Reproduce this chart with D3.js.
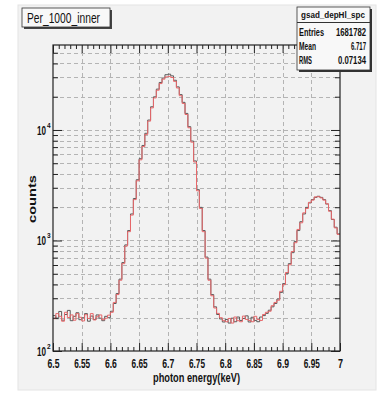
<!DOCTYPE html>
<html>
<head>
<meta charset="utf-8">
<script src="https://cdn.jsdelivr.net/npm/d3@7"></script>
<style>
body{margin:0;background:#fff;}
svg{display:block;}
text{font-family:"Liberation Sans",Arial,sans-serif;}
</style>
</head>
<body>
<div id="chart"></div>
<script>
const w = 383;
const h = 393;

// plot frame
const frameL = 53, frameR = 340, frameT = 45, frameB = 351;

// histogram binning (keV)
const binStart = 6.5;
const binWidth = 0.005;

// data histogram (black)
const dataCounts = [
  209,196,228,190,214,233,188,206,222,192,
  200,218,186,207,193,212,198,188,206,200,
  229,269,331,447,631,912,1230,1738,2399,3548,
  5495,7244,9333,12303,16218,19953,23442,26915,29512,31623,
  31989,30903,28184,24547,20893,17783,14125,10715,7943,5248,
  2884,1995,1230,708,447,324,251,214,195,183,
  193,179,198,184,203,189,197,208,183,202,
  189,184,203,209,219,234,251,269,295,339,
  407,501,617,776,977,1230,1479,1738,1995,2188,
  2344,2455,2512,2455,2344,2138,1862,1549,1318,1148
];

// second histogram (red)
const redCounts = [
  196,218,206,186,224,201,212,190,218,202,
  187,213,197,218,191,204,212,192,198,211,
  224,275,324,437,617,891,1202,1698,2344,3467,
  5370,7079,9120,12023,15849,19498,22909,26303,28840,30200,
  30550,29854,27542,23988,20417,17378,13804,10471,7762,5129,
  2818,1950,1202,692,437,316,245,219,200,188,
  184,197,179,203,188,184,207,193,189,184,
  206,193,189,214,224,229,257,275,288,347,
  398,513,603,794,955,1259,1445,1778,1950,2213,
  2320,2480,2490,2430,2320,2150,1840,1560,1300,1135
];

// axis ticks
const xTicks = [6.5,6.55,6.6,6.65,6.7,6.75,6.8,6.85,6.9,6.95,7];
const xTickLabels = ["6.5","6.55","6.6","6.65","6.7","6.75","6.8","6.85","6.9","6.95","7"];
const xMinor = [6.51,6.52,6.53,6.54,6.56,6.57,6.58,6.59,6.61,6.62,6.63,6.64,6.66,6.67,6.68,6.69,
  6.71,6.72,6.73,6.74,6.76,6.77,6.78,6.79,6.81,6.82,6.83,6.84,6.86,6.87,6.88,6.89,
  6.91,6.92,6.93,6.94,6.96,6.97,6.98,6.99];
const yDecades = [100,1000,10000];
const yExponents = ["2","3","4"];
const yMinor = [200,300,400,500,600,700,800,900,2000,3000,4000,5000,6000,7000,8000,9000,20000,30000,40000,50000];

// stats box
const statsName = "gsad_depHl_spc";
const statsRows = [["Entries","1681782"],["Mean","6.717"],["RMS","0.07134"]];
const histTitle = "Per_1000_inner";

const svg = d3.select("#chart").append("svg").attr("width",w).attr("height",h);

// squeeze text to the narrow ROOT look
function narrow(sel, len){
  sel.attr("textLength",len).attr("lengthAdjust","spacingAndGlyphs");
  return sel;
}

// pad
svg.append("rect").attr("x",18).attr("y",5).attr("width",358).attr("height",385)
  .attr("fill","#f2f2f2").attr("stroke","#e4e4e4");

const xScale = d3.scaleLinear().domain([6.5,7]).range([frameL,frameR]);
const yScale = d3.scaleLog().domain([100,58750]).range([frameB,frameT]);

// grid
const grid = svg.append("g").attr("stroke","#b4b4b4").attr("stroke-dasharray","4,3").attr("stroke-width",1);
grid.selectAll("line.v").data(xTicks.slice(1,-1)).enter().append("line")
  .attr("x1",d=>Math.round(xScale(d))+0.5).attr("x2",d=>Math.round(xScale(d))+0.5)
  .attr("y1",frameT).attr("y2",frameB);
grid.selectAll("line.h").data(yMinor.concat([1000,10000])).enter().append("line")
  .attr("y1",d=>Math.round(yScale(d))+0.5).attr("y2",d=>Math.round(yScale(d))+0.5)
  .attr("x1",frameL).attr("x2",frameR);

// histograms as steps
const edges = dataCounts.map((d,i)=>binStart+i*binWidth);
const stepLine = d3.line().curve(d3.curveStepAfter)
  .x(d=>xScale(d[0])).y(d=>yScale(d[1]));
function steps(counts){
  const pts = counts.map((c,i)=>[edges[i],c]);
  pts.push([7,counts[counts.length-1]]);
  return pts;
}
svg.append("defs").append("clipPath").attr("id","clip")
  .append("rect").attr("x",frameL).attr("y",frameT).attr("width",frameR-frameL).attr("height",frameB-frameT);
const plot = svg.append("g").attr("clip-path","url(#clip)");
plot.append("path").attr("d",stepLine(steps(dataCounts)))
  .attr("fill","none").attr("stroke","#5a5a5a").attr("stroke-width",1);
plot.append("path").attr("d",stepLine(steps(redCounts)))
  .attr("fill","none").attr("stroke","#e8676a").attr("stroke-width",1);

// axes (tick-only axes drop their empty labels)
const axStyle = g => {
  g.select(".domain").remove();
  g.selectAll("line").attr("stroke","#222");
  g.selectAll("text").filter(function(){ return this.textContent === ""; }).remove();
};
svg.append("g").attr("transform",`translate(0,${frameB})`)
  .call(d3.axisBottom(xScale).tickValues(xTicks).tickSizeInner(-8).tickSizeOuter(0).tickPadding(8)
    .tickFormat((d,i)=>xTickLabels[i]))
  .call(axStyle)
  .call(g=>g.selectAll("text").attr("font-size",12.5).attr("font-weight","bold")
    .attr("fill","#111").attr("font-family",null)
    .each(function(d,i){
      const n = xTickLabels[i].length;
      narrow(d3.select(this), n===1 ? 5 : n*4);
    }));
svg.append("g").attr("transform",`translate(0,${frameB})`)
  .call(d3.axisBottom(xScale).tickValues(xMinor).tickSizeInner(-4).tickSizeOuter(0).tickFormat(""))
  .call(axStyle);
svg.append("g").attr("transform",`translate(0,${frameT})`)
  .call(d3.axisTop(xScale).tickValues(xTicks).tickSizeInner(-8).tickSizeOuter(0).tickFormat(""))
  .call(axStyle);
svg.append("g").attr("transform",`translate(0,${frameT})`)
  .call(d3.axisTop(xScale).tickValues(xMinor).tickSizeInner(-4).tickSizeOuter(0).tickFormat(""))
  .call(axStyle);

svg.append("g").attr("transform",`translate(${frameL},0)`)
  .call(d3.axisLeft(yScale).tickValues(yDecades).tickSizeInner(-9).tickSizeOuter(0).tickFormat(""))
  .call(axStyle);
svg.append("g").attr("transform",`translate(${frameL},0)`)
  .call(d3.axisLeft(yScale).tickValues(yMinor).tickSizeInner(-5).tickSizeOuter(0).tickFormat(""))
  .call(axStyle);
svg.append("g").attr("transform",`translate(${frameR},0)`)
  .call(d3.axisRight(yScale).tickValues(yDecades).tickSizeInner(-9).tickSizeOuter(0).tickFormat(""))
  .call(axStyle);
svg.append("g").attr("transform",`translate(${frameR},0)`)
  .call(d3.axisRight(yScale).tickValues(yMinor).tickSizeInner(-5).tickSizeOuter(0).tickFormat(""))
  .call(axStyle);

// y decade labels: "10" plus raised exponent, one text element each
const ylab = svg.append("g").selectAll("text").data(yDecades).enter().append("text")
  .attr("x",37).attr("y",d=>yScale(d)+5)
  .attr("font-weight","bold").attr("fill","#111");
ylab.append("tspan").attr("font-size",12.5).attr("textLength",9).attr("lengthAdjust","spacingAndGlyphs").text("10");
ylab.append("tspan").attr("dx",1).attr("dy",-7).attr("font-size",6.5).text((d,i)=>yExponents[i]);

// frame
svg.append("rect").attr("x",frameL).attr("y",frameT).attr("width",frameR-frameL).attr("height",frameB-frameT)
  .attr("fill","none").attr("stroke","#222").attr("stroke-width",1.2);

// axis titles
narrow(svg.append("text").attr("x",153).attr("y",382)
  .attr("font-size",12.5).attr("font-weight","bold").attr("fill","#111")
  .text("photon energy(keV)"), 87);
narrow(svg.append("text").attr("transform","translate(36,223) rotate(-90)")
  .attr("font-size",10).attr("font-weight","bold").attr("fill","#111")
  .text("counts"), 48);

// title box
svg.append("rect").attr("x",24).attr("y",10).attr("width",88).attr("height",19).attr("fill","#444");
svg.append("rect").attr("x",22).attr("y",8).attr("width",88).attr("height",19)
  .attr("fill","#f8f8f8").attr("stroke","#333").attr("stroke-width",0.8);
narrow(svg.append("text").attr("x",27).attr("y",23).attr("font-size",14)
  .attr("fill","#111").text(histTitle), 73);

// stats box
svg.append("rect").attr("x",299).attr("y",9).attr("width",73).attr("height",63).attr("fill","#333");
svg.append("rect").attr("x",297).attr("y",7).attr("width",73).attr("height",63)
  .attr("fill","#f8f8f8").attr("stroke","#333").attr("stroke-width",0.8);
svg.append("line").attr("x1",297).attr("x2",370).attr("y1",22.5).attr("y2",22.5).attr("stroke","#333");
narrow(svg.append("text").attr("x",301).attr("y",18).attr("font-size",9)
  .attr("font-weight","bold").attr("fill","#111").text(statsName), 64);
const rowY = [36,50,64];
const labelW = [25,17,13];
const valueW = [30,15,28];
statsRows.forEach((r,i)=>{
  narrow(svg.append("text").attr("x",299).attr("y",rowY[i]).attr("font-size",11).attr("font-weight","bold")
    .attr("fill","#111").text(r[0]), labelW[i]);
  narrow(svg.append("text").attr("x",366-valueW[i]).attr("y",rowY[i]).attr("font-size",11)
    .attr("font-weight","bold").attr("fill","#111").text(r[1]), valueW[i]);
});
</script>
</body>
</html>
